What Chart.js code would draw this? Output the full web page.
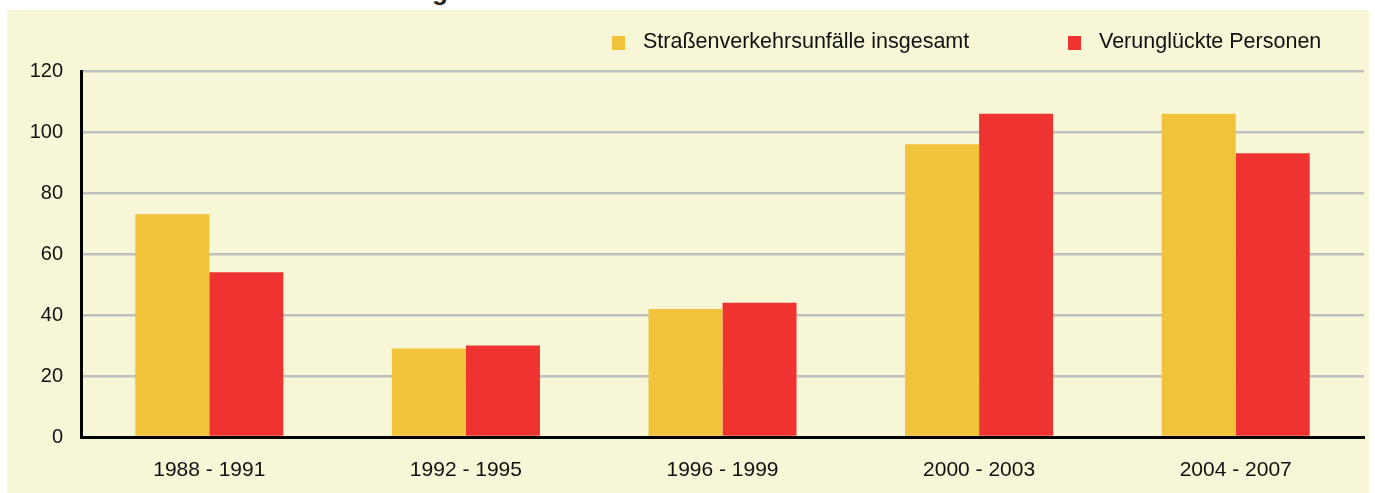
<!DOCTYPE html>
<html>
<head>
<meta charset="utf-8">
<script src="https://cdn.jsdelivr.net/npm/chart.js@4"></script>
<style>
  body { margin: 0; background: #fff; font-family: "Liberation Sans", Arial, sans-serif; }
  #title { position: absolute; left: 10px; top: -22px; font-weight: bold; font-size: 26px; line-height: 26px; color: #222; white-space: nowrap; }
  #panel { position: absolute; left: 7px; top: 10px; width: 1362px; height: 483px; background: #f7f6d6; }
  #legend { position: absolute; top: 26px; left: 0; font-size: 21.5px; color: #111; }
  .item { position: absolute; white-space: nowrap; }
  .box { position: absolute; width: 13px; height: 14px; }
</style>
</head>
<body>
<div id="title">Straßenverkehrsunfälle und verunglückte Personen</div>
<div id="panel">
  <canvas id="myChart"></canvas>
</div>
<div id="legend"></div>
<script>
const periods = ['1988 - 1991', '1992 - 1995', '1996 - 1999', '2000 - 2003', '2004 - 2007'];
const unfaelle = [73, 29, 42, 96, 106];
const verunglueckte = [54, 30, 44, 106, 93];
const seriesNames = ['Straßenverkehrsunfälle insgesamt', 'Verunglückte Personen'];
const seriesColors = ['#f1c33b', '#ef3330'];
const yTicks = [0, 20, 40, 60, 80, 100, 120];

// legend in html, placed like the original
const legend = document.getElementById('legend');
const legendX = [612, 1068];
seriesNames.forEach(function (name, i) {
  const it = document.createElement('div');
  it.className = 'item';
  it.style.left = legendX[i] + 'px';
  it.innerHTML = '<span class="box" style="left:0;top:10px;background:' + seriesColors[i] + '"></span>' +
    '<span style="position:absolute;left:31px;top:3px">' + name + '</span>';
  legend.appendChild(it);
});

const ctx = document.getElementById('myChart');
new Chart(ctx, {
  type: 'bar',
  data: {
    labels: periods,
    datasets: [
      { label: seriesNames[0], data: unfaelle, backgroundColor: seriesColors[0] },
      { label: seriesNames[1], data: verunglueckte, backgroundColor: seriesColors[1] }
    ]
  },
  options: {
    responsive: true,
    maintainAspectRatio: false,
    animation: false,
    categoryPercentage: 0.577,
    barPercentage: 1,
    layout: { padding: { top: 61, right: 5, left: 0, bottom: 0 } },
    plugins: { legend: { display: false }, tooltip: { enabled: false } },
    scales: {
      x: {
        grid: { display: false, drawTicks: false },
        border: { display: true, color: '#000', width: 3 },
        ticks: { color: '#111', font: { family: 'Liberation Sans', size: 21 }, padding: 21 },
        afterFit: function (s) { s.height = 56; }
      },
      y: {
        min: 0,
        max: 120,
        afterBuildTicks: function (s) { s.ticks = yTicks.map(v => ({ value: v })); },
        grid: { color: '#bfbfbf', lineWidth: 2.5, drawTicks: false },
        border: { display: true, color: '#000', width: 3 },
        ticks: { color: '#111', font: { family: 'Liberation Sans', size: 20 }, padding: 18 },
        afterFit: function (s) { s.width = 74; }
      }
    }
  }
});
</script>
</body>
</html>
